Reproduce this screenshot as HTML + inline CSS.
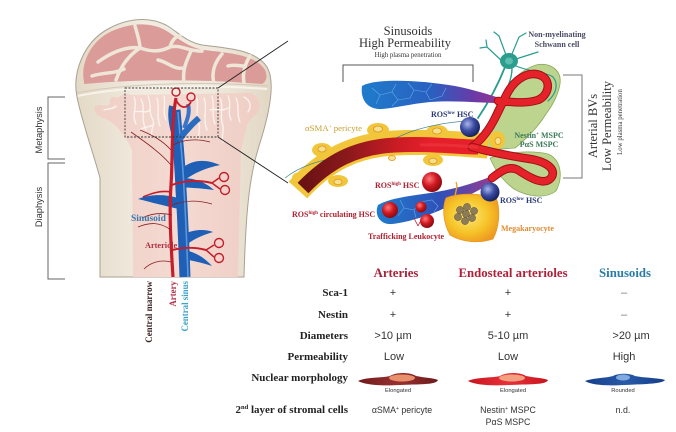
<!DOCTYPE html>
<html><head><meta charset="utf-8">
<style>
html,body{margin:0;padding:0;background:#fff;}
svg{display:block;}
</style></head><body>
<svg width="676" height="432" viewBox="0 0 676 432" xmlns="http://www.w3.org/2000/svg">
<defs>
 <linearGradient id="boneG" x1="0" y1="0" x2="1" y2="0">
  <stop offset="0" stop-color="#e4d9c6"/><stop offset="0.35" stop-color="#f1ebe0"/><stop offset="0.7" stop-color="#efe8dc"/><stop offset="1" stop-color="#e2d7c4"/>
 </linearGradient>
 <linearGradient id="marrowG" x1="0" y1="0" x2="1" y2="0">
  <stop offset="0" stop-color="#efcfc6"/><stop offset="0.5" stop-color="#f4dad2"/><stop offset="1" stop-color="#efcdc4"/>
 </linearGradient>
 <linearGradient id="trunkG" gradientUnits="userSpaceOnUse" x1="305" y1="0" x2="430" y2="0">
  <stop offset="0" stop-color="#6b1214"/><stop offset="0.35" stop-color="#8c191c"/><stop offset="0.75" stop-color="#cc1c24"/><stop offset="1" stop-color="#e5202a"/>
 </linearGradient>
 <linearGradient id="sinT" gradientUnits="userSpaceOnUse" x1="362" y1="0" x2="502" y2="0">
  <stop offset="0" stop-color="#1f7ccc"/><stop offset="0.5" stop-color="#2a5fc0"/><stop offset="0.8" stop-color="#6a3aa8"/><stop offset="1" stop-color="#a0348a"/>
 </linearGradient>
 <linearGradient id="sinB" gradientUnits="userSpaceOnUse" x1="376" y1="0" x2="494" y2="0">
  <stop offset="0" stop-color="#1f7ccc"/><stop offset="0.55" stop-color="#3050b8"/><stop offset="1" stop-color="#9a3a90"/>
 </linearGradient>
 <radialGradient id="redS" cx="0.38" cy="0.35" r="0.7">
  <stop offset="0" stop-color="#ff7a7a"/><stop offset="0.5" stop-color="#d01820"/><stop offset="1" stop-color="#800a10"/>
 </radialGradient>
 <radialGradient id="bluS" cx="0.38" cy="0.35" r="0.7">
  <stop offset="0" stop-color="#a8b6ec"/><stop offset="0.5" stop-color="#3a4aa0"/><stop offset="1" stop-color="#121c58"/>
 </radialGradient>
 <radialGradient id="megaG" cx="0.45" cy="0.45" r="0.6">
  <stop offset="0" stop-color="#fde878"/><stop offset="0.6" stop-color="#f6c428"/><stop offset="1" stop-color="#ee9a22"/>
 </radialGradient>
 <linearGradient id="c1" x1="0" y1="0" x2="1" y2="0"><stop offset="0" stop-color="#6e1a1c"/><stop offset="0.5" stop-color="#9a3030"/><stop offset="1" stop-color="#6e1a1c"/></linearGradient>
 <linearGradient id="c2" x1="0" y1="0" x2="1" y2="0"><stop offset="0" stop-color="#c8141e"/><stop offset="0.5" stop-color="#e8303a"/><stop offset="1" stop-color="#c8141e"/></linearGradient>
 <linearGradient id="c3" x1="0" y1="0" x2="1" y2="0"><stop offset="0" stop-color="#143e8a"/><stop offset="0.5" stop-color="#2a5aa8"/><stop offset="1" stop-color="#143e8a"/></linearGradient>
</defs>

<!-- ============ BONE ============ -->
<path d="M100,277 L100,178 C93,152 82,122 77,97 C72,72 84,42 108,29 C124,20 146,15 166,25 C178,32 186,42 202,45 C228,48 256,50 267,67 C276,82 269,115 259,146 C250,175 246,205 244,277 Z" fill="url(#boneG)" stroke="#a8a193" stroke-width="1"/>
<path d="M84,82 C80,62 92,40 112,31 C128,24 148,21 165,30 C177,37 187,47 204,50 C230,53 256,55 265,70 C268,77 266,82 262,84 C200,79 140,79 84,84 Z" fill="#da9b99"/>
<g stroke="#efe6d8" stroke-width="3.5" fill="none" stroke-linecap="round">
 <path d="M98,62 C112,52 126,46 140,48"/>
 <path d="M140,48 C152,52 160,52 170,47 C180,44 190,52 202,51"/>
 <path d="M116,80 C121,66 128,56 140,48"/>
 <path d="M184,82 C182,70 187,60 191,51"/>
 <path d="M214,84 C211,72 215,62 222,54"/>
 <path d="M244,83 C242,72 246,62 250,56"/>
 <path d="M135,26 C138,36 140,44 140,48"/>
 <path d="M92,76 C104,72 114,74 124,69"/>
 <path d="M158,60 C168,62 174,70 184,68"/>
 <path d="M170,47 C172,40 176,36 180,36"/>
 <path d="M228,66 C234,64 238,66 244,66"/>
</g>
<path d="M77,93 C120,84 200,81 268,86" stroke="#d3c9b8" stroke-width="1" fill="none"/>
<path d="M78,96 C120,87 200,84 267,89" stroke="#f8f3ea" stroke-width="2" fill="none"/>
<path d="M132,150 C124,134 116,124 106,119 C98,117 92,112 95,106 C100,103 105,108 110,104 C108,98 112,95 118,98 C122,94 126,93 131,95 L250,93 C258,96 262,104 258,112 C254,118 249,119 247,125 L241,150 L238,277 L133,277 Z" fill="url(#marrowG)"/>
<g stroke="#fbf4ef" stroke-width="1.3" fill="none" stroke-linecap="round">
 <path d="M134,97 C138,106 131,114 136,124"/>
 <path d="M141,99 C146,108 140,118 146,130"/>
 <path d="M148,96 C152,104 148,112 153,120 C155,126 150,130 152,136"/>
 <path d="M157,98 C160,108 156,116 160,126"/>
 <path d="M164,96 C166,104 162,112 166,120"/>
 <path d="M196,96 C200,106 194,114 199,124 C201,130 197,134 199,140"/>
 <path d="M204,98 C208,108 202,118 207,130"/>
 <path d="M212,96 C215,106 211,114 215,124"/>
 <path d="M220,98 C224,106 219,116 223,126 C224,132 221,136 223,142"/>
 <path d="M228,96 C232,104 227,112 231,120"/>
 <path d="M236,98 C240,106 236,114 240,122"/>
 <path d="M244,97 C250,100 252,106 248,112"/>
 <path d="M134,112 C140,110 146,114 150,110"/>
 <path d="M210,110 C216,108 222,112 228,108"/>
 <path d="M104,110 C108,108 112,110 116,106"/>
 <path d="M140,130 C144,126 150,128 154,124"/>
</g>
<g fill="#1f5fb5">
 <path d="M182,168 C195,158 208,160 220,165 C206,168 196,172 183,181 Z"/>
 <path d="M182,178 C196,178 206,183 214,190 C200,188 190,188 182,187 Z"/>
 <path d="M178,198 C165,194 150,194 138,199 C150,202 165,206 179,209 Z"/>
 <path d="M184,234 C195,229 205,229 213,232 C200,236 192,240 185,246 Z"/>
 <path d="M185,250 C195,252 205,258 212,266 C200,262 192,261 185,259 Z"/>
</g>
<path d="M175,110 C177,135 180,160 181,190 C183,220 184,250 185,277" stroke="#1f5fb5" stroke-width="11" fill="none"/>
<path d="M178,112 C180,137 183,162 184,190 C186,220 187,250 188,277" stroke="#5a96d8" stroke-width="1.6" fill="none"/>
<path d="M176,140 C172,126 170,116 172,106" stroke="#1f5fb5" stroke-width="6" fill="none"/>
<path d="M179,140 C186,130 192,124 199,118" stroke="#2a6cc0" stroke-width="6" fill="none"/>
<path d="M184,128 C188,118 190,112 188,104" stroke="#3a74c8" stroke-width="4" fill="none"/>
<g stroke="#c41e2c" fill="none">
 <path d="M173,277 C171,245 169,215 171,185 C173,155 171,125 176,98" stroke-width="3.2"/>
 <path d="M176,100 C180,108 186,110 191,102" stroke-width="1.8"/>
 <circle cx="176" cy="92" r="4" stroke-width="1.4"/>
 <circle cx="191" cy="97" r="4" stroke-width="1.4"/>
 <path d="M172,185 C185,180 200,180 212,183" stroke-width="2"/>
 <path d="M212,183 L219,178 M212,183 L220,189" stroke-width="1.5"/>
 <circle cx="224" cy="177" r="4.5" stroke-width="1.4"/>
 <circle cx="225" cy="190" r="4.5" stroke-width="1.4"/>
 <path d="M172,250 C185,247 195,247 206,250" stroke-width="2"/>
 <path d="M206,250 L214,245 M206,250 L214,257" stroke-width="1.5"/>
 <circle cx="219" cy="243" r="4.5" stroke-width="1.4"/>
 <circle cx="219" cy="258" r="4.5" stroke-width="1.4"/>
 <path d="M171,192 C160,190 150,194 143,197" stroke-width="1.6"/>
</g>
<g stroke="#8a2020" stroke-width="0.8" fill="none">
 <path d="M171,165 C160,152 145,142 131,132"/>
 <path d="M171,150 C162,140 152,135 140,130"/>
 <path d="M172,205 C186,200 198,200 212,204"/>
 <path d="M171,230 C160,222 150,222 138,227"/>
 <path d="M172,215 C160,212 150,214 142,218"/>
 <path d="M171,262 C160,259 150,263 144,269"/>
 <path d="M173,145 C182,140 196,138 210,142"/>
</g>
<rect x="125" y="88" width="93" height="49" fill="none" stroke="#333" stroke-width="0.9" stroke-dasharray="2,1.5"/>
<path d="M218,88 L288,41 M218,137 L288,183" stroke="#222" stroke-width="0.9"/>
<path d="M65,97 L48,97 L48,159 L65,159 M65,163 L48,163 L48,279 L65,279" stroke="#666" stroke-width="1" fill="none"/>
<g font-family="Liberation Sans, sans-serif" font-size="9.3" fill="#333" text-anchor="middle">
 <text transform="translate(42,130) rotate(-90)">Metaphysis</text>
 <text transform="translate(42,207) rotate(-90)">Diaphysis</text>
</g>
<g font-family="Liberation Serif, serif" font-weight="bold" text-anchor="end">
 <text transform="translate(152,281) rotate(-90)" font-size="8.9" fill="#3a2424">Central marrow</text>
 <text transform="translate(176,281) rotate(-90)" font-size="8.9" fill="#b0304a">Artery</text>
 <text transform="translate(188,281) rotate(-90)" font-size="8.9" fill="#3aa2c8">Central sinus</text>
</g>
<g font-family="Liberation Serif, serif" font-weight="bold">
 <text x="131" y="221" font-size="9.5" fill="#3a78b0">Sinusoid</text>
 <text x="145" y="248" font-size="8.3" fill="#b03040">Arteriole</text>
</g>

<!-- ============ RIGHT ILLUSTRATION ============ -->
<g font-family="Liberation Serif, serif" fill="#333" text-anchor="middle">
 <text x="408" y="35" font-size="12.5">Sinusoids</text>
 <text x="405" y="47" font-size="12.5">High Permeability</text>
 <text x="408" y="57" font-size="6.8">High plasma penetration</text>
 <text transform="translate(597,126) rotate(-90)" font-size="12.5">Arterial BVs</text>
 <text transform="translate(611,126) rotate(-90)" font-size="12.5">Low Permeability</text>
 <text transform="translate(622,122) rotate(-90)" font-size="6.8">Low plasma penetration</text>
</g>
<path d="M343,82 L343,65 L473,65 L473,82" stroke="#555" stroke-width="1" fill="none"/>
<path d="M563,75 L582,75 L582,178 L563,178" stroke="#777" stroke-width="1" fill="none"/>

<path d="M486,150 C484,132 492,112 502,96 C510,82 520,70 536,65 C550,62 562,70 560,84 C558,96 552,106 546,114 C540,124 528,138 515,148 Z" fill="#bcd48e" stroke="#8aaa5c" stroke-width="0.8"/>
<path d="M490,158 C508,152 530,150 548,154 C562,160 563,178 556,191 C546,199 528,197 514,189 C503,181 495,170 490,158 Z" fill="#bcd48e" stroke="#8aaa5c" stroke-width="0.8"/>
<g stroke="#2a9d8f" fill="none" stroke-width="1.2" stroke-linecap="round">
 <path d="M503,62 L487,47 L480,48 M487,47 L486,40"/>
 <path d="M506,55 L499,36 L494,32"/>
 <path d="M512,54 L519,37 L526,33"/>
 <path d="M516,59 L538,52"/>
 <path d="M516,66 C530,72 546,72 553,77 C559,84 556,94 548,101"/>
 <path d="M505,67 C498,85 490,100 478,118" stroke-width="1.8"/>
 <path d="M512,68 C512,80 506,92 500,100" stroke-width="1.4"/>
</g>
<ellipse cx="509" cy="61" rx="9" ry="8" fill="#2a9d8f"/>
<ellipse cx="509" cy="61" rx="4" ry="3.5" fill="#5cbcae"/>

<path d="M298,190 C325,160 355,145 395,143 C430,141 460,144 488,146" stroke="#f2c63a" stroke-width="25" fill="none"/>
<g fill="#f2c63a">
 <ellipse cx="322" cy="150" rx="10" ry="7"/>
 <ellipse cx="378" cy="130" rx="11" ry="7"/>
 <ellipse cx="437" cy="132" rx="11" ry="7"/>
 <ellipse cx="338" cy="181" rx="10" ry="6"/>
 <ellipse cx="433" cy="160" rx="10" ry="6"/>
 <ellipse cx="300" cy="178" rx="8" ry="6"/>
 <ellipse cx="497" cy="140" rx="8" ry="9"/>
</g>
<g fill="#f8e08a" stroke="#d8962e" stroke-width="0.8">
 <ellipse cx="322" cy="149" rx="4" ry="3"/>
 <ellipse cx="378" cy="129" rx="4.5" ry="3"/>
 <ellipse cx="437" cy="131" rx="4.5" ry="3"/>
 <ellipse cx="338" cy="182" rx="4" ry="2.8"/>
 <ellipse cx="433" cy="161" rx="4" ry="2.8"/>
 <ellipse cx="392" cy="158" rx="3.5" ry="2.5"/>
 <ellipse cx="498" cy="141" rx="3" ry="3.5"/>
</g>
<path d="M285,178 C300,166 320,160 345,156 C370,151 390,140 410,132 C430,125 450,122 476,120" stroke="#4a8a90" stroke-width="0.7" fill="none"/>

<path d="M362,86 C376,78 420,80 455,86 C475,90 490,95 503,99 L501,103 C480,103 455,100 430,102 C410,104 395,108 382,109 C368,110 360,100 362,86 Z" fill="url(#sinT)"/>
<g stroke="#64aae8" stroke-width="0.6" fill="none">
 <path d="M372,88 L380,95 L376,104 M380,95 L392,92 L398,100 L392,106 M392,92 L396,84 M398,100 L410,98 L414,90 L408,83 M414,90 L426,92 L430,100 M426,92 L432,84 M430,100 L442,96 L446,88"/>
</g>
<path d="M378,205 C390,198 410,196 430,193 C450,190 470,185 492,176 L495,181 C476,192 460,200 445,208 C430,215 410,222 392,224 C380,225 374,215 378,205 Z" fill="url(#sinB)"/>
<g stroke="#64aae8" stroke-width="0.6" fill="none">
 <path d="M400,200 L404,208 L398,216 M404,208 L414,210 L420,202 M414,210 L416,218 M420,202 L432,200 L438,206 L434,212"/>
</g>
<path d="M455,196 C456,190 458,186 456,182" stroke="#f0a030" stroke-width="1.4" fill="none"/>

<path d="M303,188 C328,162 355,147 395,145 C430,143 455,147 478,147" stroke="url(#trunkG)" stroke-width="15" fill="none"/>
<g fill="none" stroke-linecap="round">
 <path d="M472,147 C492,132 498,110 508,92 C516,78 530,70 542,76 C552,82 548,96 538,100 C525,104 512,102 498,101" stroke="#a01018" stroke-width="8.5"/>
 <path d="M472,147 C492,132 498,110 508,92 C516,78 530,70 542,76 C552,82 548,96 538,100 C525,104 512,102 498,101" stroke="#e5222a" stroke-width="6.5"/>
 <path d="M472,147 C490,152 510,156 530,159 C548,162 557,170 551,178 C544,186 530,178 518,170 C508,165 500,172 492,178" stroke="#a01018" stroke-width="8.5"/>
 <path d="M472,147 C490,152 510,156 530,159 C548,162 557,170 551,178 C544,186 530,178 518,170 C508,165 500,172 492,178" stroke="#e5222a" stroke-width="6.5"/>
</g>
<path d="M420,145 C440,144 460,146 478,147" stroke="#ef3a40" stroke-width="3" fill="none" opacity="0.6"/>

<circle cx="390" cy="210" r="8" fill="url(#redS)"/>
<circle cx="421" cy="207" r="5.5" fill="url(#redS)"/>
<circle cx="427" cy="221" r="7" fill="url(#redS)"/>
<path d="M414,218 L418,226 M418,226 L420,222" stroke="#c02030" stroke-width="0.8" fill="none"/>

<path d="M446,198 C460,192 480,194 496,197 C501,210 499,228 493,239 C478,244 462,242 450,235 C443,222 442,208 446,198 Z" fill="url(#megaG)" stroke="#e89a28" stroke-width="0.8"/>
<g fill="#8c7c58" stroke="#5e5238" stroke-width="0.5">
 <circle cx="460" cy="210" r="3.6"/><circle cx="467" cy="207" r="3.6"/><circle cx="474" cy="211" r="3.6"/>
 <circle cx="472" cy="218" r="3.6"/><circle cx="465" cy="221" r="3.6"/><circle cx="458" cy="217" r="3.6"/>
 <circle cx="466" cy="214" r="3.6"/>
</g>

<circle cx="470" cy="127" r="10" fill="url(#bluS)"/>
<circle cx="490" cy="192" r="9.5" fill="url(#bluS)"/>
<circle cx="432" cy="182" r="10" fill="url(#redS)"/>

<g font-family="Liberation Serif, serif" font-weight="bold" font-size="8">
 <text x="557" y="37" text-anchor="middle" fill="#4a4a66">Non-myelinating</text>
 <text x="557" y="47" text-anchor="middle" fill="#4a4a66">Schwann cell</text>
 <text x="431" y="117" fill="#2a3a7a">ROS<tspan font-size="5" dy="-3">low</tspan><tspan dy="3"> HSC</tspan></text>
 <text x="500" y="203" fill="#2a3a7a">ROS<tspan font-size="5" dy="-3">low</tspan><tspan dy="3"> HSC</tspan></text>
 <text x="539" y="138" text-anchor="middle" fill="#3a7a5a">Nestin<tspan font-size="5" dy="-3">+</tspan><tspan dy="3"> MSPC</tspan></text>
 <text x="539" y="147" text-anchor="middle" fill="#3a7a5a">PαS MSPC</text>
 <text x="375" y="188" fill="#b02030">ROS<tspan font-size="5" dy="-3">high</tspan><tspan dy="3"> HSC</tspan></text>
 <text x="292" y="217" fill="#b02030">ROS<tspan font-size="5" dy="-3">high</tspan><tspan dy="3"> circulating HSC</tspan></text>
 <text x="368" y="239" fill="#b02030">Trafficking Leukocyte</text>
 <text x="501" y="231" fill="#e08a30">Megakaryocyte</text>
</g>
<text x="305" y="131" font-family="Liberation Serif, serif" font-size="8.8" fill="#c9a030">αSMA<tspan font-size="5" dy="-3">+</tspan><tspan dy="3"> pericyte</tspan></text>

<!-- ============ TABLE ============ -->
<g font-family="Liberation Serif, serif" font-weight="bold" font-size="12.8" text-anchor="middle">
 <text x="396" y="277" fill="#a3243b">Arteries</text>
 <text x="513" y="277" fill="#b01e38">Endosteal arterioles</text>
 <text x="625" y="277" fill="#2a7ca8">Sinusoids</text>
</g>
<g font-family="Liberation Serif, serif" font-weight="bold" font-size="11" fill="#222" text-anchor="end">
 <text x="348" y="296">Sca-1</text>
 <text x="348" y="318">Nestin</text>
 <text x="348" y="339">Diameters</text>
 <text x="348" y="360">Permeability</text>
 <text x="348" y="381">Nuclear morphology</text>
 <text x="348" y="413">2<tspan font-size="6.5" dy="-4">nd</tspan><tspan dy="4"> layer of stromal cells</tspan></text>
</g>
<g font-family="Liberation Sans, sans-serif" font-size="11" fill="#333" text-anchor="middle">
 <text x="393" y="296">+</text><text x="508" y="296">+</text><text x="624" y="296" fill="#777">–</text>
 <text x="393" y="318">+</text><text x="508" y="318">+</text><text x="624" y="318" fill="#777">–</text>
 <text x="393" y="339">&gt;10 µm</text><text x="508" y="339">5-10 µm</text><text x="631" y="339">&gt;20 µm</text>
 <text x="394" y="360">Low</text><text x="508" y="360">Low</text><text x="624" y="360">High</text>
</g>
<g font-family="Liberation Sans, sans-serif" font-size="8.8" fill="#333" text-anchor="middle">
 <text x="402" y="413">αSMA<tspan font-size="5" dy="-3">+</tspan><tspan dy="3"> pericyte</tspan></text>
 <text x="508" y="413">Nestin<tspan font-size="5" dy="-3">+</tspan><tspan dy="3"> MSPC</tspan></text>
 <text x="508" y="425">PαS MSPC</text>
 <text x="623" y="413">n.d.</text>
</g>
<path d="M358,381 C366,377 382,378 390,376 C396,372 410,372 416,376 C426,378 434,378 438,380 C436,385 420,384 400,385 C380,386 366,385 358,381 Z" fill="url(#c1)"/>
<ellipse cx="402" cy="378" rx="13" ry="3.5" fill="#e8906c"/>
<path d="M468,381 C476,377 492,378 500,376 C506,372 520,372 526,376 C536,378 544,378 548,380 C546,385 530,384 510,385 C490,386 476,385 468,381 Z" fill="url(#c2)"/>
<ellipse cx="512" cy="378" rx="13" ry="3.5" fill="#f2a080"/>
<path d="M585,381 C593,378 606,378 613,376 C618,373 630,373 635,376 C645,378 660,378 665,380 C662,384 645,384 625,385 C605,386 592,385 585,381 Z" fill="url(#c3)"/>
<ellipse cx="623" cy="377.5" rx="7" ry="3" fill="#7eaae0"/>
<g font-family="Liberation Sans, sans-serif" font-size="5.8" fill="#333" text-anchor="middle">
 <text x="398" y="392">Elongated</text>
 <text x="513" y="392">Elongated</text>
 <text x="623" y="392">Rounded</text>
</g>
</svg>
</body></html>
